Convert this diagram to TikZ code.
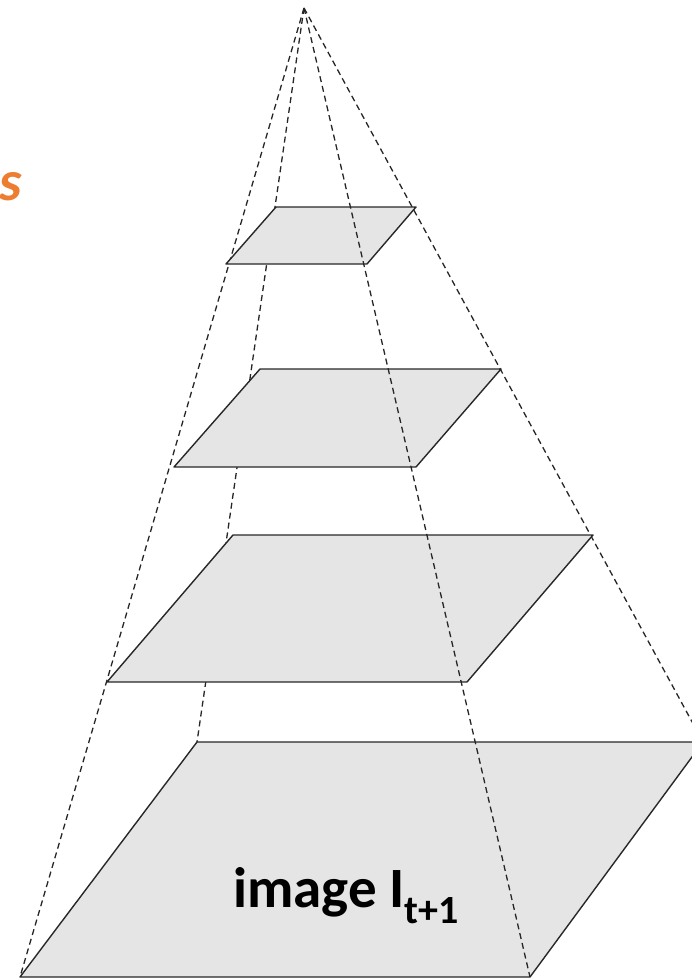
\documentclass[tikz,border=0pt]{standalone}
\usepackage{fontspec}
\setmainfont{Carlito}
\definecolor{planefill}{RGB}{229,229,229}
\definecolor{planeedge}{RGB}{40,40,40}
\definecolor{orangetxt}{RGB}{237,125,49}
\begin{document}
\begin{tikzpicture}[x=1pt,y=-1pt,
  plane/.style={fill=planefill,draw=planeedge,line width=1.4pt,line join=round},
  pyredge/.style={dash pattern=on 6pt off 4pt,line width=1.3pt,draw=black!85}]
\useasboundingbox (0,0) rectangle (692,980);
\clip (0,0) rectangle (692,980);
% apex
\coordinate (apex) at (304,8);
% plane 1 (top)
\coordinate (p1TL) at (276,207);
\coordinate (p1TR) at (416,207);
\coordinate (p1BR) at (367,264);
\coordinate (p1BL) at (226,264);
% plane 2
\coordinate (p2TL) at (260,369);
\coordinate (p2TR) at (501,369);
\coordinate (p2BR) at (416,467);
\coordinate (p2BL) at (174,467);
% plane 3
\coordinate (p3TL) at (233,535);
\coordinate (p3TR) at (593,535);
\coordinate (p3BR) at (467,682);
\coordinate (p3BL) at (107,682);
% plane 4 (image)
\coordinate (p4TL) at (197,742);
\coordinate (p4TR) at (703,742);
\coordinate (p4BR) at (530,977);
\coordinate (p4BL) at (20,977);
% back edges of the pyramid
\draw[pyredge] (apex) -- (p4TL);
\draw[pyredge] (apex) -- (p4BL);
\draw[pyredge] (apex) -- (p4TR);
% planes
\filldraw[plane] (p1TL) -- (p1TR) -- (p1BR) -- (p1BL) -- cycle;
\filldraw[plane] (p2TL) -- (p2TR) -- (p2BR) -- (p2BL) -- cycle;
\filldraw[plane] (p3TL) -- (p3TR) -- (p3BR) -- (p3BL) -- cycle;
\filldraw[plane] (p4TL) -- (p4TR) -- (p4BR) -- (p4BL) -- cycle;
% front edge
\draw[pyredge] (apex) -- (p4BR);
% labels
\node[anchor=base west,inner sep=0pt,font=\fontsize{57}{60}\selectfont\bfseries] (imglabel) at (233,907)
  {image I\raisebox{-16pt}{\fontsize{40}{42}\selectfont t+1}};
\node[anchor=base east,inner sep=0pt,text=orangetxt,font=\fontsize{57}{60}\selectfont\bfseries\itshape] (cutlabel) at (22,200) {s};
\end{tikzpicture}
\end{document}
